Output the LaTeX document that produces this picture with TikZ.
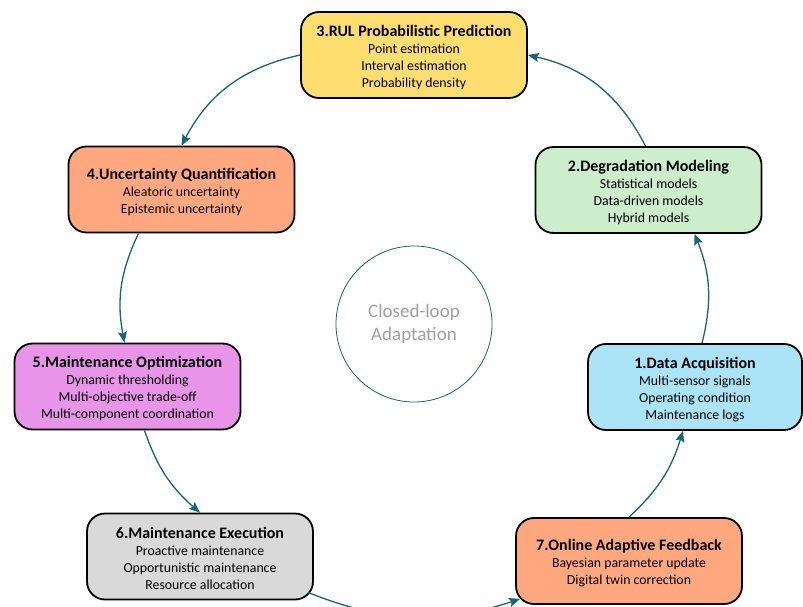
\documentclass[tikz,border=0pt]{standalone}
\usepackage{fontspec}
\setmainfont{Carlito}
\usetikzlibrary{arrows.meta}

\definecolor{flow}{RGB}{22,100,130}
\definecolor{hubtext}{RGB}{160,160,160}
\definecolor{fillyellow}{RGB}{255,222,112}
\definecolor{fillgreen}{RGB}{204,238,204}
\definecolor{fillblue}{RGB}{170,228,246}
\definecolor{fillsalmon}{RGB}{255,168,128}
\definecolor{fillviolet}{RGB}{232,148,232}
\definecolor{fillgray}{RGB}{217,217,217}

% stage heading: a taller strut on the first line sets the text block a little lower
\newcommand\stagetitle[1]{{\rule{0pt}{16pt}\fontsize{16}{17}\selectfont\bfseries #1}}

\begin{document}
\begin{tikzpicture}[x=1pt,y=-1pt,
  stage/.style={draw=black, line width=1.8pt, rounded corners=18pt,
    minimum width=226pt, minimum height=86pt, inner sep=0pt,
    align=center, font=\fontsize{13.8}{17}\selectfont},
  flowarrow/.style={draw=flow, line width=1.3pt,
    -{Stealth[length=11pt,width=9pt,inset=2pt]}},
  hub/.style={circle, draw=flow, line width=0.8pt, minimum size=156pt,
    inner sep=0pt, align=center, text=hubtext,
    font=\fontsize{19}{23}\selectfont}
]
\useasboundingbox (0,0) rectangle (803,607);

% stages of the loop
\node[stage, fill=fillyellow] (b3) at (414,55)
  {\stagetitle{3.RUL Probabilistic Prediction}\\Point estimation\\Interval estimation\\Probability density};
\node[stage, fill=fillgreen] (b2) at (648.5,190)
  {\stagetitle{2.Degradation Modeling}\\Statistical models\\Data-driven models\\Hybrid models};
\node[stage, fill=fillblue, minimum width=214pt] (b1) at (695,387)
  {\stagetitle{1.Data Acquisition}\\Multi-sensor signals\\Operating condition\\Maintenance logs};
\node[stage, fill=fillsalmon] (b7) at (629,561)
  {\stagetitle{7.Online Adaptive Feedback}\\Bayesian parameter update\\Digital twin correction};
\node[stage, fill=fillgray] (b6) at (200,556.5)
  {\stagetitle{6.Maintenance Execution}\\Proactive maintenance\\Opportunistic maintenance\\Resource allocation};
\node[stage, fill=fillviolet] (b5) at (127.5,386.5)
  {\stagetitle{5.Maintenance Optimization}\\Dynamic thresholding\\Multi-objective trade-off\\Multi-component coordination};
\node[stage, fill=fillsalmon] (b4) at (181.5,189.5)
  {\stagetitle{4.Uncertainty Quantification}\\Aleatoric uncertainty\\Epistemic uncertainty};

% centre of the loop
\node[hub] (hub) at (414,324) {Closed-loop\\Adaptation};

% loop connectors
\draw[flowarrow] ([xshift=-3pt]b2.north) to[bend right=25] (b3.east);
\draw[flowarrow] (b3.west) to[bend right=25] (b4.north);
\draw[flowarrow] ([xshift=-43pt]b4.south) to[bend right=18] ([xshift=-3pt]b5.north);
\draw[flowarrow] ([xshift=17pt]b5.south) to[bend right=15] (b6.north);
\draw[flowarrow] ([xshift=-6pt,yshift=8pt]b6.south east) to[bend right=20] ([xshift=5pt,yshift=6pt]b7.south west);
\draw[flowarrow] (b7.north) to[bend right=15] ([xshift=-12pt]b1.south);
\draw[flowarrow] ([xshift=7pt]b1.north) to[bend right=18] ([xshift=46pt]b2.south);
\end{tikzpicture}
\end{document}
